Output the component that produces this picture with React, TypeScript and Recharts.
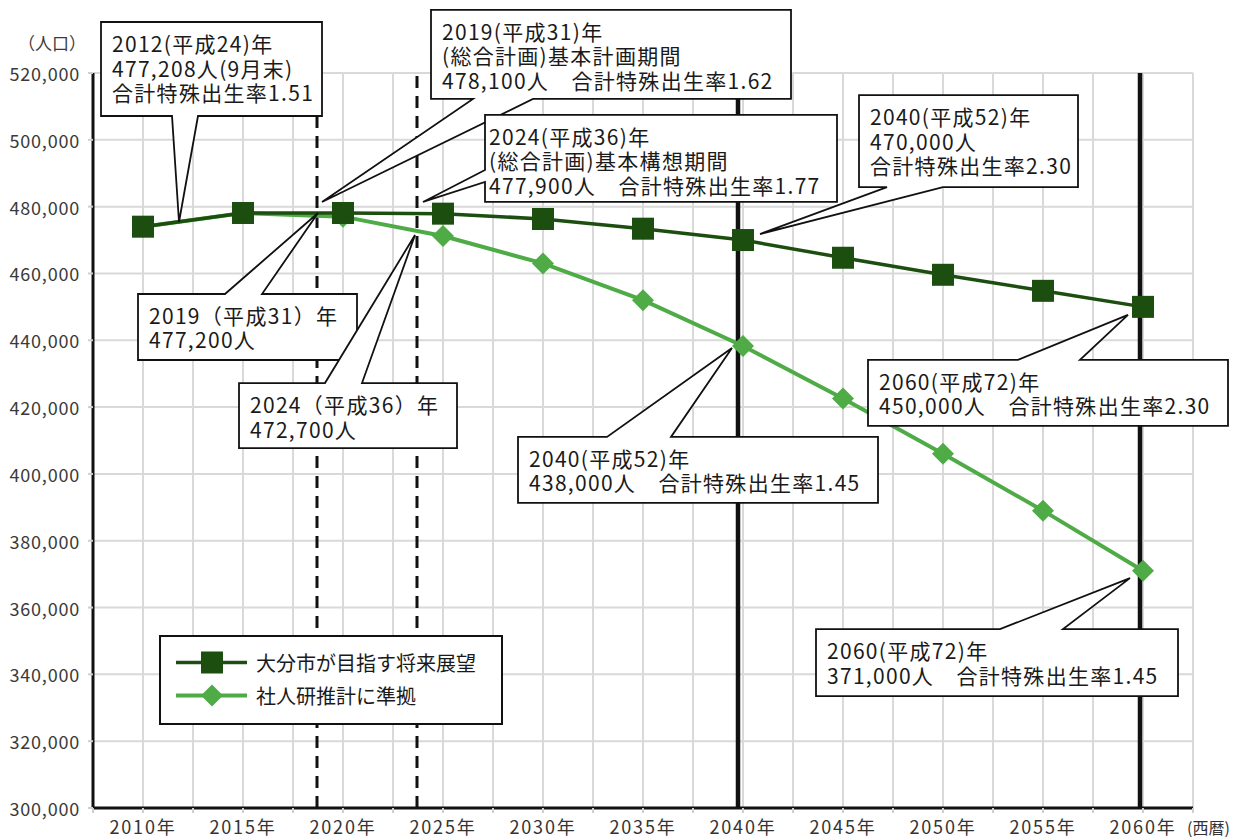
import {
  LineChart,
  Line,
  XAxis,
  YAxis,
  CartesianGrid,
  ReferenceLine,
  ReferenceDot,
  Legend,
} from "recharts";

const FONT = '"Noto Sans CJK JP", "Noto Sans", sans-serif';
const DARK = "#1c4e10";
const LIGHT = "#4eab45";

// years on the x axis
const YEARS = [2010, 2015, 2020, 2025, 2030, 2035, 2040, 2045, 2050, 2055, 2060];
// 大分市が目指す将来展望
const TARGET = [474000, 478100, 478100, 477900, 476300, 473400, 470000, 464700, 459600, 454800, 450000];
// 社人研推計に準拠
const IPSS = [474000, 478100, 477000, 471200, 463000, 452000, 438300, 422600, 406000, 389000, 371000];
const SERIES_NAMES = ["大分市が目指す将来展望", "社人研推計に準拠"];

const X_TICKS = [
  2007.5, 2010, 2012.5, 2015, 2017.5, 2020, 2022.5, 2025, 2027.5, 2030, 2032.5, 2035,
  2037.5, 2040, 2042.5, 2045, 2047.5, 2050, 2052.5, 2055, 2057.5, 2060, 2062.5,
];
const Y_TICKS = [300000, 320000, 340000, 360000, 380000, 400000, 420000, 440000, 460000, 480000, 500000, 520000];

// plan period markers (dashed) and target years (solid)
const PERIOD_LINES = [2018.7, 2023.7];
const MILESTONE_LINES = [2039.75, 2059.85];

type Edge = "top" | "bottom" | "left";
type CalloutDef = {
  id: string;
  x: number;
  y: number;
  lines: string[];
  box: [number, number, number, number]; // dx, dy, w, h from the pointer tip (px)
  edge: Edge;
  base: [number, number];
  pad?: number;
};

const CALLOUTS: CalloutDef[] = [
  { id: "c2012", x: 2011.8, y: 475400, lines: ["2012(平成24)年", "477,208人(9月末)", "合計特殊出生率1.51"], box: [-78, -200, 221, 94], edge: "bottom", base: [-7, 19] },
  { id: "c2019u", x: 2018.95, y: 481400, lines: ["2019(平成31)年", "(総合計画)基本計画期間", "478,100人　合計特殊出生率1.62"], box: [109, -192, 360, 89], edge: "bottom", base: [151, 211] },
  { id: "c2024u", x: 2024, y: 481400, lines: ["2024(平成36)年", "(総合計画)基本構想期間", "477,900人　合計特殊出生率1.77"], box: [62, -87, 352, 87], edge: "left", base: [-32, -20], pad: 4 },
  { id: "c2040a", x: 2040.85, y: 471800, lines: ["2040(平成52)年", "470,000人", "合計特殊出生率2.30"], box: [99, -139, 219, 92], edge: "bottom", base: [127, 183] },
  { id: "c2019l", x: 2018.75, y: 478100, lines: ["2019（平成31）年", "477,200人"], box: [-180, 81, 219, 66], edge: "top", base: [-93, -56] },
  { id: "c2024l", x: 2023.6, y: 471500, lines: ["2024（平成36）年", "472,700人"], box: [-176, 148, 218, 65], edge: "top", base: [-90, -53] },
  { id: "c2040b", x: 2039.45, y: 437700, lines: ["2040(平成52)年", "438,000人　合計特殊出生率1.45"], box: [-214, 89, 360, 66], edge: "top", base: [-125, -61] },
  { id: "c2060a", x: 2059.25, y: 447600, lines: ["2060(平成72)年", "450,000人　合計特殊出生率2.30"], box: [-260, 45, 360, 66], edge: "top", base: [-110, -48] },
  { id: "c2060b", x: 2059.35, y: 368800, lines: ["2060(平成72)年", "371,000人　合計特殊出生率1.45"], box: [-314, 51, 362, 67], edge: "top", base: [-130, -67] },
];

const data = YEARS.map((year, i) => ({ year, target: TARGET[i], ipss: IPSS[i] }));

function Callout({ def, cx, cy }: { def: CalloutDef; cx: number; cy: number }) {
  const [dx, dy, w, h] = def.box;
  const l = cx + dx;
  const t = cy + dy;
  const r = l + w;
  const b = t + h;
  let pts: [number, number][];
  if (def.edge === "top") {
    pts = [[l, t], [cx + def.base[0], t], [cx, cy], [cx + def.base[1], t], [r, t], [r, b], [l, b]];
  } else if (def.edge === "bottom") {
    pts = [[l, t], [r, t], [r, b], [cx + def.base[1], b], [cx, cy], [cx + def.base[0], b], [l, b]];
  } else {
    pts = [[l, t], [r, t], [r, b], [l, b], [l, cy + def.base[1]], [cx, cy], [l, cy + def.base[0]]];
  }
  const d = "M" + pts.map((p) => p.join(",")).join("L") + "Z";
  const pad = def.pad ?? 11;
  return (
    <g>
      <path d={d} fill="#fff" stroke="#111" strokeWidth={1.8} />
      <text fontSize={21} letterSpacing={1.3} fontFamily={FONT} fill="#1a1a1a">
        {def.lines.map((s, i) => (
          <tspan key={i} x={l + pad} y={t + 30 + i * 24.5}>
            {s}
          </tspan>
        ))}
      </text>
    </g>
  );
}

function square(props: any) {
  const { cx, cy, index } = props;
  if (cx == null || cy == null) return <g key={`s${index}`} />;
  return <rect key={`s${index}`} x={cx - 11} y={cy - 11} width={22} height={22} fill={DARK} />;
}

function diamond(props: any) {
  const { cx, cy, index } = props;
  if (cx == null || cy == null) return <g key={`d${index}`} />;
  const s = 11;
  return (
    <polygon
      key={`d${index}`}
      points={`${cx},${cy - s} ${cx + s},${cy} ${cx},${cy + s} ${cx - s},${cy}`}
      fill={LIGHT}
    />
  );
}

function XTick(props: any) {
  const { x, payload } = props;
  const v = payload.value as number;
  if (v % 5 !== 0) return <g />;
  return (
    <g>
      <text x={x} y={834} textAnchor="middle" fontSize={18} letterSpacing={1.8} fontFamily={FONT} fill="#333">
        {`${v}年`}
      </text>
      {v === 2060 && (
        <text x={x + 44} y={834} fontSize={16} fontFamily={FONT} fill="#333">
          (西暦)
        </text>
      )}
    </g>
  );
}

function YTick(props: any) {
  const { x, y, payload } = props;
  return (
    <text x={x} y={y} textAnchor="end" dominantBaseline="central" fontSize={18} letterSpacing={0.8} fontFamily={FONT} fill="#3a3a3a">
      {Number(payload.value).toLocaleString("en-US")}
    </text>
  );
}

function LegendBox() {
  const row = (i: number) => (
    <div key={i} style={{ display: "flex", alignItems: "center", height: 33 }}>
      <svg width={71} height={33} style={{ display: "block" }}>
        <line x1={0} x2={71} y1={16.5} y2={16.5} stroke={i === 0 ? DARK : LIGHT} strokeWidth={i === 0 ? 3.5 : 4} />
        {i === 0 ? (
          <rect x={25} y={5.5} width={22} height={22} fill={DARK} />
        ) : (
          <polygon points="36,5.5 47,16.5 36,27.5 25,16.5" fill={LIGHT} />
        )}
      </svg>
      <span style={{ marginLeft: 9, fontSize: 20, color: "#1a1a1a", whiteSpace: "nowrap" }}>{SERIES_NAMES[i]}</span>
    </div>
  );
  return (
    <div
      style={{
        width: 344,
        height: 90,
        boxSizing: "border-box",
        border: "2.5px solid #111",
        background: "#fff",
        padding: "9px 0 0 15px",
        fontFamily: FONT,
      }}
    >
      {row(0)}
      {row(1)}
    </div>
  );
}

export default function App() {
  return (
    <div style={{ position: "absolute", left: 0, top: 0, width: 1238, height: 839, background: "#fff" }}>
      <LineChart width={1238} height={839} data={data} margin={{ top: 73, right: 45, bottom: 0, left: 0 }}>
        <CartesianGrid stroke="#d9d9d9" strokeWidth={2} />
        <XAxis
          dataKey="year"
          type="number"
          domain={[2007.5, 2062.5]}
          ticks={X_TICKS}
          interval={0}
          height={31}
          axisLine={{ stroke: "#111", strokeWidth: 3 }}
          tickLine={{ stroke: "#cfcfcf", strokeWidth: 2 }}
          tickSize={5}
          tick={XTick}
        />
        <YAxis
          type="number"
          domain={[300000, 520000]}
          ticks={Y_TICKS}
          interval={0}
          width={93}
          axisLine={{ stroke: "#111", strokeWidth: 3 }}
          tickLine={{ stroke: "#cfcfcf", strokeWidth: 2 }}
          tickSize={5}
          tickMargin={8}
          tick={YTick}
          label={() => (
            <text x={52} y={42} textAnchor="middle" dominantBaseline="central" fontSize={17} fontFamily={FONT} fill="#3a3a3a">
              （人口）
            </text>
          )}
        />
        {PERIOD_LINES.map((x) => (
          <ReferenceLine key={`p${x}`} x={x} stroke="#111" strokeWidth={3} strokeDasharray="12 8" />
        ))}
        {MILESTONE_LINES.map((x) => (
          <ReferenceLine key={`m${x}`} x={x} stroke="#111" strokeWidth={4.5} />
        ))}
        <Line
          type="linear"
          dataKey="ipss"
          name={SERIES_NAMES[1]}
          stroke={LIGHT}
          strokeWidth={4}
          dot={diamond}
          activeDot={false}
          isAnimationActive={false}
        />
        <Line
          type="linear"
          dataKey="target"
          name={SERIES_NAMES[0]}
          stroke={DARK}
          strokeWidth={3.5}
          dot={square}
          activeDot={false}
          isAnimationActive={false}
        />
        {CALLOUTS.map((c) => (
          <ReferenceDot
            key={c.id}
            x={c.x}
            y={c.y}
            r={0}
            ifOverflow="visible"
            shape={(p: any) => <Callout def={c} cx={p.cx} cy={p.cy} />}
          />
        ))}
        <Legend
          layout="vertical"
          align="center"
          verticalAlign="middle"
          content={() => <LegendBox />}
          wrapperStyle={{ left: 159, top: 635, width: 344, height: 90 }}
        />
      </LineChart>
    </div>
  );
}
